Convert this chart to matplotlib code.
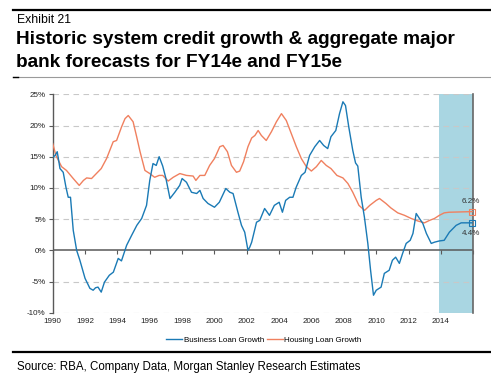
import numpy as np
import matplotlib
matplotlib.use('Agg')
import matplotlib.pyplot as plt
from matplotlib.lines import Line2D

# Business loan growth (%)
biz_year = [1990.0, 1990.15, 1990.28, 1990.45, 1990.65, 1990.82, 1990.96, 1991.1, 1991.27, 1991.48,
            1991.68, 1992.0, 1992.3, 1992.5, 1992.65, 1992.8, 1993.0, 1993.2, 1993.5, 1993.75,
            1994.05, 1994.25, 1994.57, 1994.88, 1995.2, 1995.5, 1995.8, 1996.0, 1996.2, 1996.4,
            1996.58, 1996.8, 1997.0, 1997.25, 1997.55, 1997.85, 1998.0, 1998.27, 1998.58, 1998.9,
            1999.1, 1999.3, 1999.6, 2000.0, 2000.3, 2000.7, 2000.95, 2001.15, 2001.45, 2001.67,
            2001.87, 2002.07, 2002.18, 2002.3, 2002.6, 2002.8, 2003.1, 2003.4, 2003.7, 2004.0,
            2004.2, 2004.4, 2004.65, 2004.85, 2005.05, 2005.37, 2005.6, 2005.88, 2006.2, 2006.5,
            2006.75, 2007.0, 2007.2, 2007.5, 2007.73, 2007.94, 2008.1, 2008.3, 2008.55, 2008.72,
            2008.86, 2009.07, 2009.27, 2009.48, 2009.65, 2009.83, 2010.0, 2010.3, 2010.5, 2010.8,
            2011.0, 2011.2, 2011.43, 2011.63, 2011.85, 2012.1, 2012.27, 2012.47, 2012.67, 2012.88,
            2013.1, 2013.4, 2013.6, 2013.9, 2014.2, 2014.52, 2014.94, 2015.25, 2015.93]
biz_growth = [14.9, 15.2, 15.8, 13.1, 12.5, 10.1, 8.5, 8.5, 3.2, 0.0,
              -1.6, -4.5, -6.1, -6.4, -6.0, -5.9, -6.7, -5.1, -4.0, -3.5,
              -1.3, -1.7, 0.8, 2.4, 4.0, 5.1, 7.2, 11.2, 13.9, 13.6,
              15.0, 13.5, 11.5, 8.3, 9.3, 10.4, 11.5, 10.9, 9.3, 9.1,
              9.6, 8.3, 7.5, 6.9, 7.7, 9.9, 9.3, 9.1, 6.1, 4.0,
              2.9, 0.0, 0.5, 1.3, 4.5, 4.8, 6.7, 5.6, 7.2, 7.7,
              6.1, 8.0, 8.5, 8.5, 10.1, 12.0, 12.5, 15.2, 16.6, 17.6,
              16.8, 16.3, 18.2, 19.2, 21.9, 23.8, 23.2, 19.8, 16.0, 14.0,
              13.5, 8.5, 5.3, 1.1, -3.2, -7.2, -6.4, -5.9, -3.7, -3.2,
              -1.6, -1.1, -2.1, -0.5, 1.1, 1.6, 2.7, 5.9, 5.1, 4.3,
              2.7, 1.1, 1.3, 1.5, 1.6, 2.9, 4.0, 4.4, 4.4]

# Housing loan growth (%)
house_year = [1990.0, 1990.2, 1990.55, 1990.85, 1991.27, 1991.64, 1991.9, 1992.1, 1992.4, 1992.7,
              1993.0, 1993.33, 1993.74, 1993.95, 1994.26, 1994.47, 1994.67, 1994.97, 1995.19, 1995.4,
              1995.7, 1996.0, 1996.3, 1996.58, 1996.8, 1997.14, 1997.45, 1997.86, 1998.27, 1998.68,
              1998.85, 1999.1, 1999.4, 1999.7, 2000.0, 2000.33, 2000.53, 2000.8, 2001.05, 2001.36,
              2001.56, 2001.8, 2002.07, 2002.3, 2002.5, 2002.7, 2002.9, 2003.2, 2003.52, 2003.83,
              2004.14, 2004.44, 2004.75, 2005.06, 2005.37, 2005.68, 2005.99, 2006.3, 2006.6, 2006.91,
              2007.2, 2007.57, 2007.94, 2008.25, 2008.55, 2008.93, 2009.28, 2009.6, 2010.0, 2010.2,
              2010.6, 2010.9, 2011.33, 2011.75, 2012.16, 2012.57, 2012.98, 2013.3, 2013.6, 2013.9,
              2014.2, 2014.5, 2015.93]
house_growth = [17.1, 15.2, 13.4, 12.8, 11.5, 10.4, 11.2, 11.6, 11.5, 12.3,
                13.1, 14.7, 17.4, 17.6, 19.8, 21.1, 21.6, 20.6, 18.2, 15.8,
                12.8, 12.3, 11.7, 12.0, 12.0, 11.1, 11.7, 12.3, 12.0, 11.9,
                11.2, 12.0, 12.0, 13.6, 14.7, 16.6, 16.8, 15.8, 13.6, 12.5,
                12.7, 14.2, 16.6, 18.0, 18.4, 19.2, 18.4, 17.6, 19.0, 20.6,
                21.9, 20.8, 18.7, 16.6, 14.7, 13.4, 12.7, 13.4, 14.4, 13.6,
                13.1, 12.0, 11.6, 10.7, 9.3, 7.2, 6.4, 7.2, 8.0, 8.3,
                7.5, 6.8, 6.0, 5.6, 5.1, 4.7, 4.4, 4.8, 5.1, 5.6,
                6.0, 6.1, 6.2]

forecast_start = 2013.9
x_ticks = [1990, 1992, 1994, 1996, 1998, 2000, 2002, 2004, 2006, 2008, 2010, 2012, 2014, 2016]
x_labels = ['1990', '1992', '1994', '1996', '1998', '2000', '2002', '2004', '2006', '2008',
            '2010', '2012', '2014', '']
y_ticks = [-10, -5, 0, 5, 10, 15, 20, 25]
y_labels = ['-10%', '-5%', '0%', '5%', '10%', '15%', '20%', '25%']

blue = '#1a7ab5'
orange = '#f0805f'
shade = '#a9d6e2'
axis_grey = '#595959'

plt.rcParams['font.family'] = ['Liberation Sans', 'DejaVu Sans']

W, H = 491, 379
fig = plt.figure(figsize=(W / 100, H / 100), dpi=100)

# plot area
ax = fig.add_axes([52.7 / W, 1 - 312.7 / H, (473.3 - 52.7) / W, (312.7 - 94.3) / H])
ax.set_xlim(1990, 2016)
ax.set_ylim(-10, 25)

ax.axvspan(forecast_start, 2016, color=shade, lw=0, zorder=0)

for v in y_ticks:
    if v != 0:
        ax.axhline(v, color='#c8c8c8', lw=0.8, ls=(0, (5, 4)), zorder=1)
ax.axhline(0, color=axis_grey, lw=1.1, zorder=2)
# little tick marks hanging off the zero line
ax.plot(x_ticks, np.zeros(len(x_ticks)), ls='none', marker=3, ms=3, mew=0.8,
        color=axis_grey, clip_on=False, zorder=2)

ax.plot(biz_year, biz_growth, color=blue, lw=1.0, zorder=4, label='Business Loan Growth')
ax.plot(house_year, house_growth, color=orange, lw=1.0, zorder=3, label='Housing Loan Growth')

# end-of-forecast markers and labels
ax.plot(biz_year[-1], biz_growth[-1], marker='s', ms=4.5, mfc='none', mec=blue, mew=0.8,
        clip_on=False, zorder=5)
ax.plot(house_year[-1], house_growth[-1], marker='s', ms=4.5, mfc='none', mec=orange, mew=0.8,
        clip_on=False, zorder=5)
ax.annotate('%.1f%%' % house_growth[-1], (house_year[-1], house_growth[-1]), xytext=(-1, 7.5),
            textcoords='offset points', ha='center', va='center', fontsize=5.8, color='#333333')
ax.annotate('%.1f%%' % biz_growth[-1], (biz_year[-1], biz_growth[-1]), xytext=(-1, -8),
            textcoords='offset points', ha='center', va='center', fontsize=5.8, color='#333333')

ax.set_xticks(x_ticks)
ax.set_xticklabels(x_labels)
ax.set_yticks(y_ticks)
ax.set_yticklabels(y_labels)
ax.tick_params(axis='x', length=0, pad=4, labelsize=5.8, labelcolor='#222222')
ax.tick_params(axis='y', length=3, width=0.8, color=axis_grey, pad=2, labelsize=5.8,
               labelcolor='#222222')

ax.spines['top'].set_visible(False)
ax.spines['bottom'].set_visible(False)
ax.spines['left'].set_color(axis_grey)
ax.spines['left'].set_linewidth(1.0)
ax.spines['right'].set_color('#666666')
ax.spines['right'].set_linewidth(1.2)

ax.legend(loc='center', bbox_to_anchor=(264 / W, 1 - 340 / H), bbox_transform=fig.transFigure,
          ncol=2, frameon=False, fontsize=5.8, handlelength=2.0, handletextpad=0.2,
          columnspacing=0.3, borderpad=0)

# header / footer
fig.add_artist(Line2D([13 / W, 1], [1 - 10 / H, 1 - 10 / H], color='black', lw=1.6))
fig.add_artist(Line2D([13 / W, 1], [1 - 76.5 / H, 1 - 76.5 / H], color='#9a9a9a', lw=0.8))
fig.add_artist(Line2D([13 / W, 18 / W], [1 - 76.5 / H, 1 - 76.5 / H], color='black', lw=1.0))
fig.add_artist(Line2D([13 / W, 1], [1 - 352.3 / H, 1 - 352.3 / H], color='black', lw=1.6))

fig.text(17 / W, 1 - 23.3 / H, 'Exhibit 21', fontsize=8.8, va='baseline')
fig.text(16 / W, 1 - 44.5 / H, 'Historic system credit growth & aggregate major',
         fontsize=13.7, fontweight='bold', va='baseline')
fig.text(16 / W, 1 - 66.7 / H, 'bank forecasts for FY14e and FY15e',
         fontsize=13.7, fontweight='bold', va='baseline')
fig.text(17 / W, 1 - 370 / H, 'Source: RBA, Company Data, Morgan Stanley Research Estimates',
         fontsize=8.3, va='baseline')

fig.savefig('out.png', dpi=100)
